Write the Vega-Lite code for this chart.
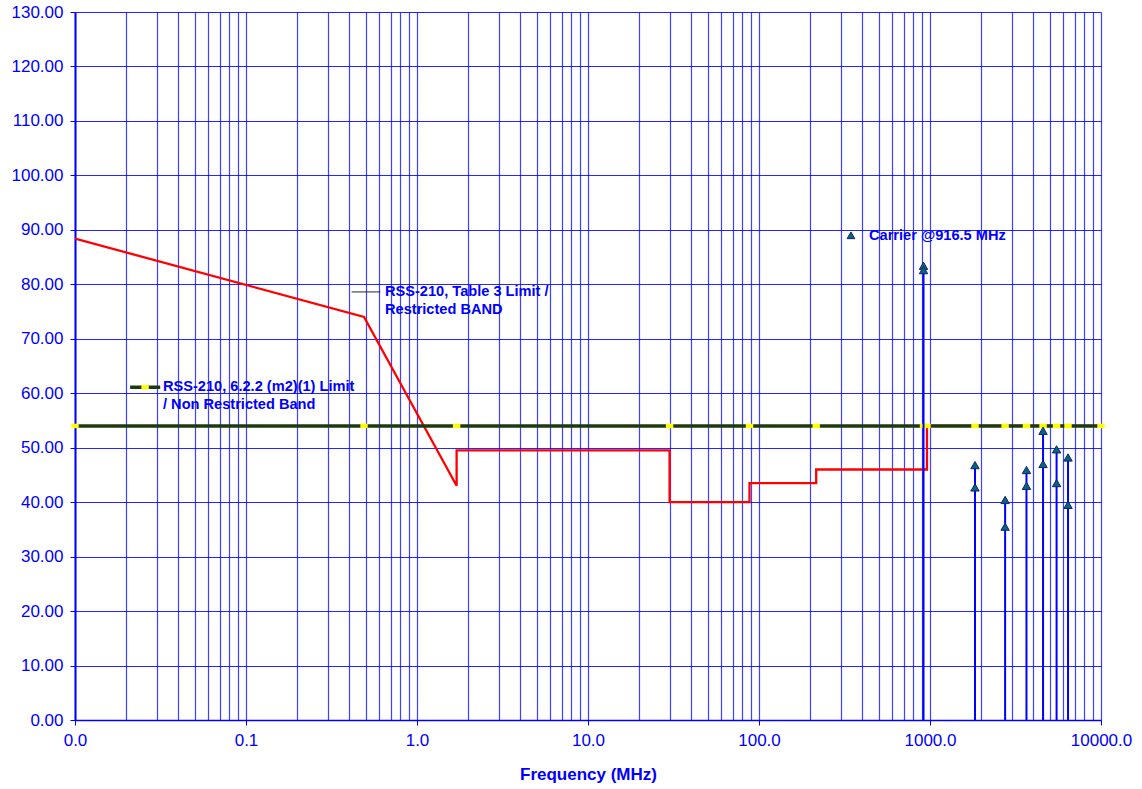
{
  "$schema": "https://vega.github.io/schema/vega-lite/v6.json",
  "width": 1026,
  "height": 708,
  "autosize": {"type": "none"},
  "padding": {"left": 75, "top": 12, "right": 41, "bottom": 69},
  "background": "white",
  "config": {
    "view": {"stroke": null},
    "font": "Liberation Sans",
    "axis": {"labelFont": "Liberation Sans", "titleFont": "Liberation Sans"}
  },
  "datasets": {
    "restricted": [
      {"i": 1, "f": 0.01, "v": 88.4},
      {"i": 2, "f": 0.49, "v": 74.0},
      {"i": 3, "f": 1.705, "v": 43.0},
      {"i": 4, "f": 1.705, "v": 49.5},
      {"i": 5, "f": 30, "v": 49.5},
      {"i": 6, "f": 30, "v": 40.0},
      {"i": 7, "f": 88, "v": 40.0},
      {"i": 8, "f": 88, "v": 43.5},
      {"i": 9, "f": 216, "v": 43.5},
      {"i": 10, "f": 216, "v": 46.0},
      {"i": 11, "f": 960, "v": 46.0},
      {"i": 12, "f": 960, "v": 54.0},
      {"i": 13, "f": 10000, "v": 54.0}
    ],
    "nonrestricted": [
      {"i": 1, "f": 0.01, "v": 54},
      {"i": 2, "f": 0.49, "v": 54},
      {"i": 3, "f": 1.705, "v": 54},
      {"i": 4, "f": 30, "v": 54},
      {"i": 5, "f": 88, "v": 54},
      {"i": 6, "f": 216, "v": 54},
      {"i": 7, "f": 916.5, "v": 54},
      {"i": 8, "f": 960, "v": 54},
      {"i": 9, "f": 1833, "v": 54},
      {"i": 10, "f": 2749.5, "v": 54},
      {"i": 11, "f": 3666, "v": 54},
      {"i": 12, "f": 4582.5, "v": 54},
      {"i": 13, "f": 5499, "v": 54},
      {"i": 14, "f": 6415.5, "v": 54},
      {"i": 15, "f": 10000, "v": 54}
    ],
    "emissions": [
      {"f": 916.5, "v": 83.4},
      {"f": 916.5, "v": 82.6},
      {"f": 1833, "v": 46.8},
      {"f": 1833, "v": 42.7},
      {"f": 2749.5, "v": 40.4},
      {"f": 2749.5, "v": 35.5},
      {"f": 3666, "v": 45.9},
      {"f": 3666, "v": 43.0},
      {"f": 4582.5, "v": 53.1},
      {"f": 4582.5, "v": 47.0},
      {"f": 5499, "v": 49.7},
      {"f": 5499, "v": 43.5},
      {"f": 6415.5, "v": 48.2},
      {"f": 6415.5, "v": 39.5}
    ],
    "labels": [
      {"f": 0.0327, "v": 61.2, "label": "RSS-210, 6.2.2 (m2)(1) Limit"},
      {"f": 0.0327, "v": 57.8, "label": "/ Non Restricted Band"},
      {"f": 0.65, "v": 78.6, "label": "RSS-210, Table 3 Limit /"},
      {"f": 0.65, "v": 75.3, "label": "Restricted BAND"},
      {"f": 440, "v": 88.9, "label": "Carrier @916.5 MHz"}
    ],
    "greenKey": [
      {"f": 0.021, "v": 61.1},
      {"f": 0.0315, "v": 61.1}
    ],
    "greenKeyMarker": [
      {"f": 0.0257, "v": 61.1}
    ],
    "redKey": [
      {"f": 0.415, "v": 78.6},
      {"f": 0.61, "v": 78.6}
    ],
    "carrierKey": [
      {"f": 345, "v": 89.0}
    ]
  },
  "layer": [
    {
      "data": {"name": "restricted"},
      "mark": {"type": "line", "color": "#ff0000", "strokeWidth": 2.3, "clip": true},
      "encoding": {
        "x": {
          "field": "f", "type": "quantitative",
          "scale": {"type": "log", "domain": [0.01, 10000], "nice": false},
          "axis": {
            "title": "Frequency (MHz)",
            "titleColor": "#0000ff",
            "titleFontSize": 17,
            "titleFontWeight": "bold",
            "titlePadding": 18,
            "values": [0.01,0.02,0.03,0.04,0.05,0.06,0.07,0.08,0.09,0.1,0.2,0.3,0.4,0.5,0.6,0.7,0.8,0.9,1,2,3,4,5,6,7,8,9,10,20,30,40,50,60,70,80,90,100,200,300,400,500,600,700,800,900,1000,2000,3000,4000,5000,6000,7000,8000,9000,10000],
            "labelExpr": "abs(log(datum.value)/LN10 - round(log(datum.value)/LN10)) < 0.001 ? format(datum.value, '.1f') : ''",
            "labelColor": "#0000ff",
            "labelFontSize": 17,
            "labelPadding": 7,
            "labelFlush": false,
            "labelOverlap": false,
            "labelBound": false,
            "grid": true,
            "gridColor": "#0000ff",
            "gridOpacity": 0.75,
            "gridWidth": 1.2,
            "domainColor": "#0000ff",
            "domainWidth": 1.5,
            "tickColor": "#0000ff",
            "tickSize": 5,
            "tickOpacity": {"condition": {"test": "abs(log(datum.value)/LN10 - round(log(datum.value)/LN10)) < 0.001", "value": 1}, "value": 0}
          }
        },
        "y": {
          "field": "v", "type": "quantitative",
          "scale": {"domain": [0, 130], "nice": false},
          "axis": {
            "title": null,
            "values": [0,10,20,30,40,50,60,70,80,90,100,110,120,130],
            "format": ".2f",
            "labelColor": "#0000ff",
            "labelFontSize": 17,
            "labelPadding": 7,
            "grid": true,
            "gridColor": "#0000ff",
            "gridOpacity": 0.85,
            "gridWidth": 1.2,
            "domainColor": "#0000ff",
            "domainWidth": 2,
            "tickColor": "#0000ff",
            "tickSize": 5
          }
        },
        "order": {"field": "i", "type": "quantitative"}
      }
    },
    {
      "data": {"name": "nonrestricted"},
      "mark": {"type": "line", "color": "#1c3a0c", "strokeWidth": 3.5},
      "encoding": {
        "x": {"field": "f", "type": "quantitative", "scale": {"type": "log", "domain": [0.01, 10000], "nice": false}},
        "y": {"field": "v", "type": "quantitative", "scale": {"domain": [0, 130], "nice": false}},
        "order": {"field": "i", "type": "quantitative"}
      }
    },
    {
      "data": {"name": "nonrestricted"},
      "mark": {"type": "point", "shape": "M-1,-0.6H1V0.6H-1Z", "filled": true, "color": "#ffff00", "size": 55, "opacity": 1, "clip": false},
      "encoding": {
        "x": {"field": "f", "type": "quantitative", "scale": {"type": "log", "domain": [0.01, 10000], "nice": false}},
        "y": {"field": "v", "type": "quantitative", "scale": {"domain": [0, 130], "nice": false}}
      }
    },
    {
      "data": {"name": "emissions"},
      "mark": {"type": "rule", "color": "#0000ff", "strokeWidth": 2},
      "encoding": {
        "x": {"field": "f", "type": "quantitative", "scale": {"type": "log", "domain": [0.01, 10000], "nice": false}},
        "y": {"aggregate": "max", "field": "v", "type": "quantitative", "scale": {"domain": [0, 130], "nice": false}},
        "y2": {"datum": 0}
      }
    },
    {
      "data": {"name": "emissions"},
      "mark": {"type": "point", "shape": "triangle-up", "filled": true, "fill": "#006b6e", "stroke": "#1a1a80", "strokeWidth": 1, "size": 70, "opacity": 1},
      "encoding": {
        "x": {"field": "f", "type": "quantitative", "scale": {"type": "log", "domain": [0.01, 10000], "nice": false}},
        "y": {"field": "v", "type": "quantitative", "scale": {"domain": [0, 130], "nice": false}}
      }
    },
    {
      "data": {"name": "greenKey"},
      "mark": {"type": "line", "color": "#1c3a0c", "strokeWidth": 3.5},
      "encoding": {
        "x": {"field": "f", "type": "quantitative", "scale": {"type": "log", "domain": [0.01, 10000], "nice": false}},
        "y": {"field": "v", "type": "quantitative", "scale": {"domain": [0, 130], "nice": false}}
      }
    },
    {
      "data": {"name": "greenKeyMarker"},
      "mark": {"type": "point", "shape": "M-1,-0.6H1V0.6H-1Z", "filled": true, "color": "#ffff00", "size": 55, "opacity": 1},
      "encoding": {
        "x": {"field": "f", "type": "quantitative", "scale": {"type": "log", "domain": [0.01, 10000], "nice": false}},
        "y": {"field": "v", "type": "quantitative", "scale": {"domain": [0, 130], "nice": false}}
      }
    },
    {
      "data": {"name": "redKey"},
      "mark": {"type": "line", "color": "#202050", "strokeWidth": 1},
      "encoding": {
        "x": {"field": "f", "type": "quantitative", "scale": {"type": "log", "domain": [0.01, 10000], "nice": false}},
        "y": {"field": "v", "type": "quantitative", "scale": {"domain": [0, 130], "nice": false}}
      }
    },
    {
      "data": {"name": "carrierKey"},
      "mark": {"type": "point", "shape": "triangle-up", "filled": true, "fill": "#006b6e", "stroke": "#1a1a80", "strokeWidth": 1, "size": 60, "opacity": 1},
      "encoding": {
        "x": {"field": "f", "type": "quantitative", "scale": {"type": "log", "domain": [0.01, 10000], "nice": false}},
        "y": {"field": "v", "type": "quantitative", "scale": {"domain": [0, 130], "nice": false}}
      }
    },
    {
      "data": {"name": "labels"},
      "mark": {"type": "text", "align": "left", "baseline": "middle", "font": "Liberation Sans", "fontWeight": "bold", "fontSize": 14.6, "color": "#0000ff"},
      "encoding": {
        "x": {"field": "f", "type": "quantitative", "scale": {"type": "log", "domain": [0.01, 10000], "nice": false}},
        "y": {"field": "v", "type": "quantitative", "scale": {"domain": [0, 130], "nice": false}},
        "text": {"field": "label", "type": "nominal"}
      }
    }
  ]
}
